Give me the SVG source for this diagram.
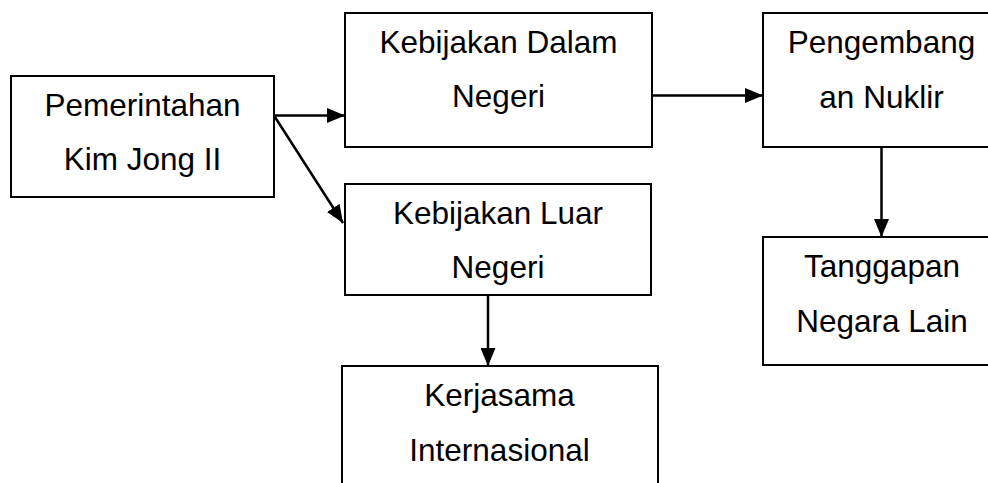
<svg xmlns="http://www.w3.org/2000/svg" width="988" height="483" viewBox="0 0 988 483">
<defs>
<style>
.box{fill:#fff;stroke:#000;stroke-width:2}
.t{font-family:"Liberation Sans",Arial,sans-serif;font-size:31.5px;fill:#000;text-anchor:middle}
.c{stroke:#000;stroke-width:2.5;fill:none;marker-end:url(#ah)}
</style>
<marker id="ah" viewBox="0 0 18 15" refX="18" refY="7.5" markerWidth="18" markerHeight="15" markerUnits="userSpaceOnUse" orient="auto">
<path d="M0,0 L18,7.5 L0,15 Z" fill="#000"/>
</marker>
</defs>
<rect width="988" height="483" fill="#fff"/>
<g id="connectors">
<line class="c" x1="274" y1="115.5" x2="345" y2="115.5"/>
<line class="c" x1="274" y1="115.5" x2="343" y2="223"/>
<line class="c" x1="652" y1="95.5" x2="763" y2="95.5"/>
<line class="c" x1="881.5" y1="147" x2="881.5" y2="237"/>
<line class="c" x1="488" y1="296" x2="488" y2="366"/>
</g>
<g id="pemerintahan">
<rect class="box" x="11" y="76" width="263" height="121"/>
<text class="t" x="142.5" y="116">Pemerintahan</text>
<text class="t" x="142.5" y="170">Kim Jong II</text>
</g>
<g id="dalam-negeri">
<rect class="box" x="345" y="13" width="307" height="134"/>
<text class="t" x="498.5" y="53">Kebijakan Dalam</text>
<text class="t" x="498.5" y="107">Negeri</text>
</g>
<g id="nuklir">
<rect class="box" x="763" y="13" width="237" height="134"/>
<text class="t" x="881.5" y="53">Pengembang</text>
<text class="t" x="881.5" y="108">an Nuklir</text>
</g>
<g id="luar-negeri">
<rect class="box" x="345" y="184" width="306" height="111"/>
<text class="t" x="498" y="224">Kebijakan Luar</text>
<text class="t" x="498" y="278">Negeri</text>
</g>
<g id="tanggapan">
<rect class="box" x="763" y="237" width="238" height="128"/>
<text class="t" x="882" y="277">Tanggapan</text>
<text class="t" x="882" y="332">Negara Lain</text>
</g>
<g id="kerjasama">
<rect class="box" x="342" y="366" width="316" height="140"/>
<text class="t" x="499.5" y="406">Kerjasama</text>
<text class="t" x="499.5" y="461">Internasional</text>
</g>
</svg>
